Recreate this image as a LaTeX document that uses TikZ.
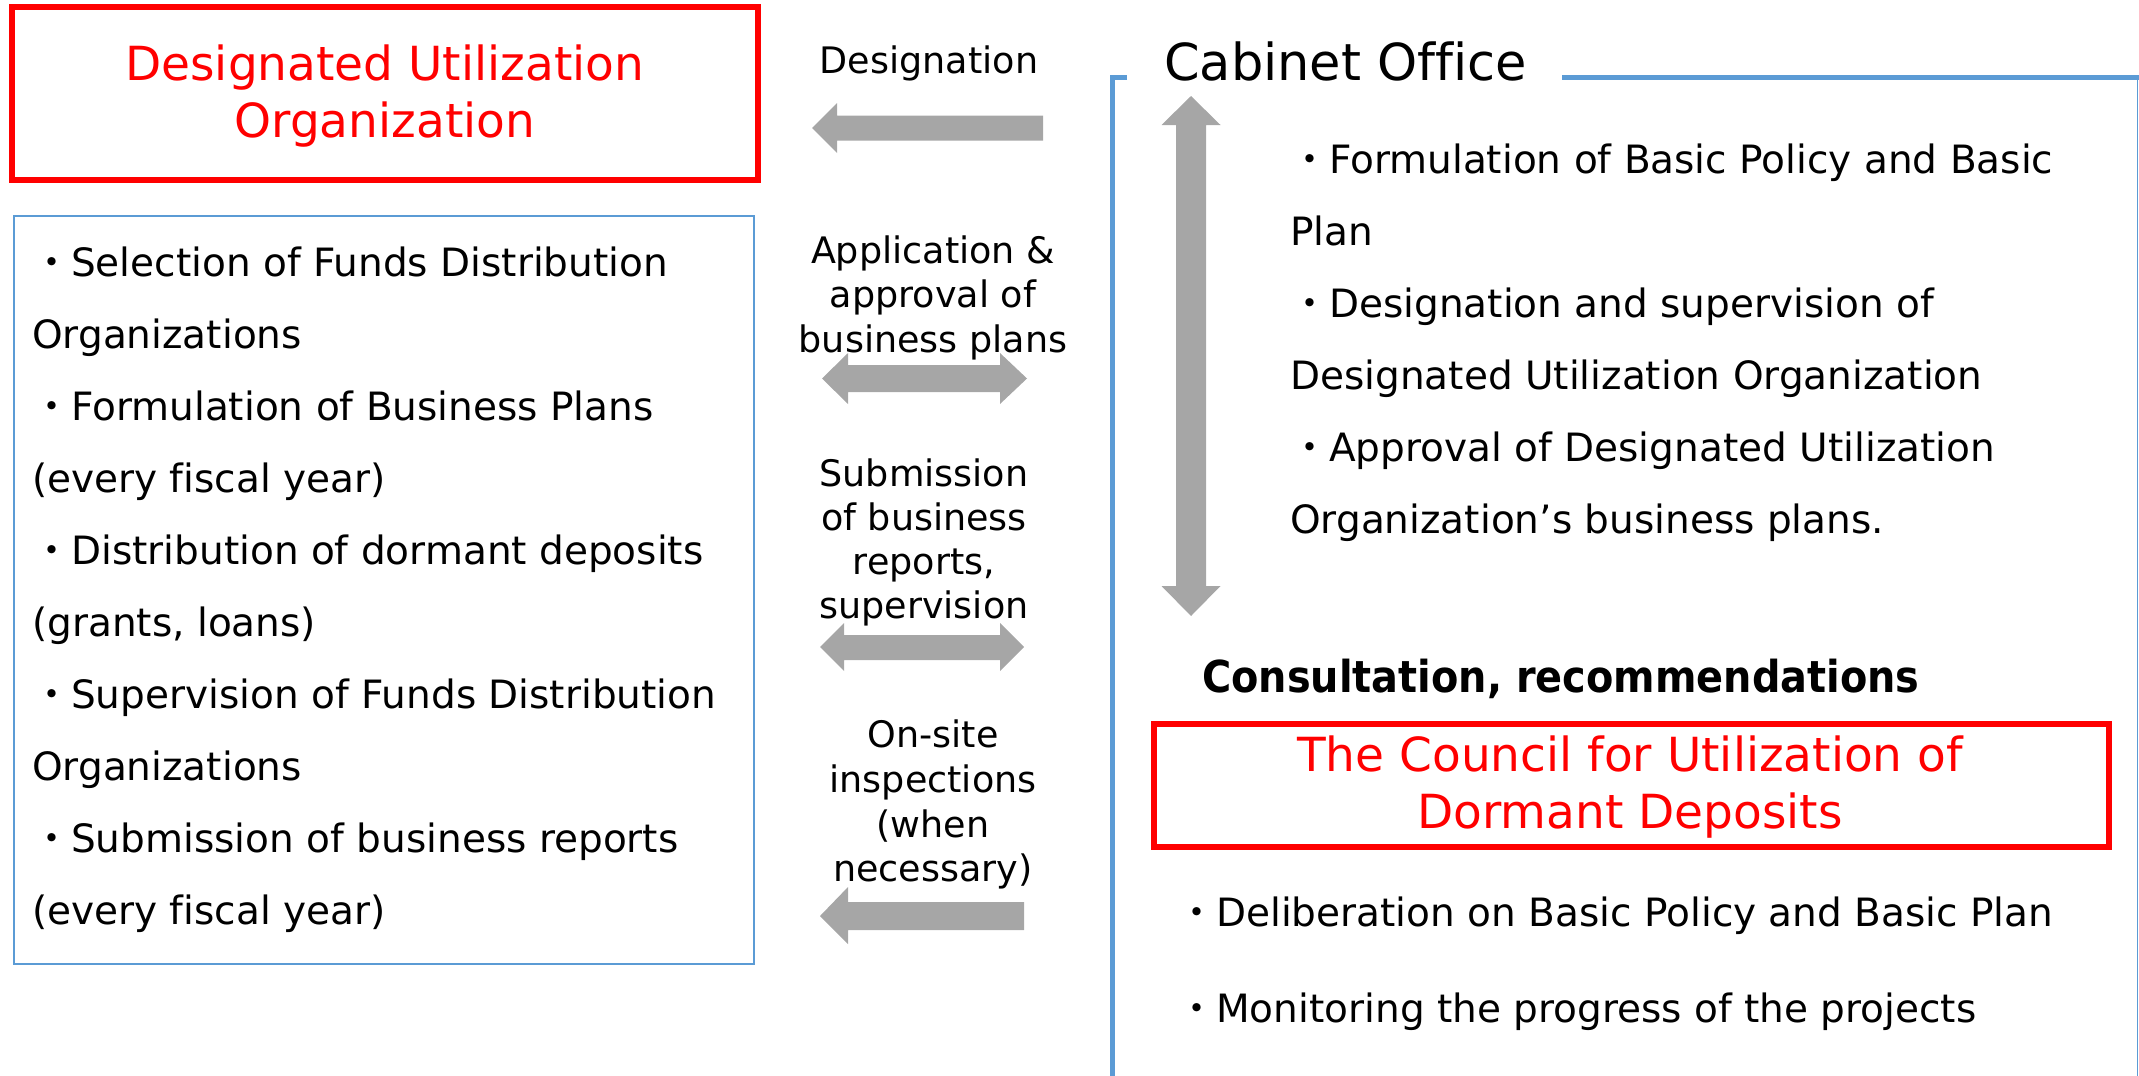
\documentclass[tikz,border=0pt]{standalone}
\usepackage{fontspec}
\usepackage{graphicx}
\setmainfont[Ligatures=NoCommon]{DejaVu Sans}
\newfontfamily\cjk{Noto Sans CJK JP}
\newfontfamily\boldcond[UprightFont=* Bold, FakeStretch=0.905]{DejaVu Sans}
\definecolor{arrowgray}{RGB}{166,166,166}
\definecolor{frameblue}{RGB}{91,155,213}
\newcommand{\bul}{{\cjk ・}}
\tikzset{
  txt/.style={inner sep=0pt, anchor=base west, font=\fontsize{39}{47}\selectfont},
  midlbl/.style={inner sep=0pt, anchor=base, font=\fontsize{36.5}{44}\selectfont},
  ttl/.style={inner sep=0pt, anchor=base, text=red, font=\fontsize{47}{57}\selectfont},
  blockarrow/.style={fill=arrowgray, draw=none},
  redbox/.style={draw=red, line width=6pt, inner sep=0pt},
  bluethin/.style={draw=frameblue, line width=2pt, inner sep=0pt},
  bluethick/.style={draw=frameblue, line width=5pt},
}
\begin{document}
\begin{tikzpicture}[x=1pt,y=-1pt]
\useasboundingbox (0,0) rectangle (2139,1076);

% ---- Designated Utilization Organization box
\node[redbox, minimum width=745.5pt, minimum height=173pt] (duo) at (384.75,93.5) {};
\node[ttl] (duo1) at (384.75,80) {Designated Utilization};
\node[ttl] (duo2) at (384.75,137) {Organization};

% ---- left list box
\node[bluethin, minimum width=740pt, minimum height=748pt] (lbox) at (384,590) {};
\node[txt] (l0) at (32,276.0) {\bul Selection of Funds Distribution};
\node[txt] (l1) at (32,348.1) {Organizations};
\node[txt] (l2) at (32,420.2) {\bul Formulation of Business Plans};
\node[txt] (l3) at (32,492.3) {(every fiscal year)};
\node[txt] (l4) at (32,564.4) {\bul Distribution of dormant deposits};
\node[txt] (l5) at (32,636.5) {(grants, loans)};
\node[txt] (l6) at (32,708.6) {\bul Supervision of Funds Distribution};
\node[txt] (l7) at (32,780.7) {Organizations};
\node[txt] (l8) at (32,852.8) {\bul Submission of business reports};
\node[txt] (l9) at (32,924.9) {(every fiscal year)};

% ---- middle labels
\node[midlbl] (m0) at (929,73) {Designation};
\node[midlbl] (m1a) at (933,263) {Application \&};
\node[midlbl] (m1b) at (933,307) {approval of};
\node[midlbl] (m1c) at (933,352) {business plans};
\node[midlbl] (m2a) at (924,486) {Submission};
\node[midlbl] (m2b) at (924,530) {of business};
\node[midlbl] (m2c) at (924,574) {reports,};
\node[midlbl] (m2d) at (924,618) {supervision};
\node[midlbl] (m3a) at (933,747) {On-site};
\node[midlbl] (m3b) at (933,792) {inspections};
\node[midlbl] (m3c) at (933,837) {(when};
\node[midlbl] (m3d) at (933,881) {necessary)};

% ---- block arrows
\fill[blockarrow] (812,128) -- (837,103) -- (837,115.5) -- (1043,115.5) -- (1043,140.5)
  -- (837,140.5) -- (837,153) -- cycle;
\fill[blockarrow] (822,378.5) -- (848,353) -- (848,365) -- (1000,365) -- (1000,353)
  -- (1027,378.5) -- (1000,404) -- (1000,392) -- (848,392) -- (848,404) -- cycle;
\fill[blockarrow] (820,647) -- (844,623) -- (844,635) -- (1000,635) -- (1000,623)
  -- (1024,647) -- (1000,671) -- (1000,660) -- (844,660) -- (844,671) -- cycle;
\fill[blockarrow] (820,916) -- (848,887) -- (848,902) -- (1024,902) -- (1024,930)
  -- (848,930) -- (848,944) -- cycle;
\fill[blockarrow] (1191,96) -- (1220.5,125) -- (1206,125) -- (1206,586) -- (1220.5,586)
  -- (1191,616) -- (1161.5,586) -- (1176,586) -- (1176,125) -- (1161.5,125) -- cycle;

% ---- Cabinet Office frame
\draw[bluethick] (1127,77.5) -- (1112.5,77.5) -- (1112.5,1080);
\draw[bluethick] (1562,77.5) -- (2139,77.5);
\draw[frameblue, line width=1.5pt] (2137.5,77.5) -- (2137.5,1080);
\node[inner sep=0pt, anchor=base west, font=\fontsize{51}{60}\selectfont] (cab) at (1164,80) {Cabinet Office};

\node[txt] (r0) at (1290,173) {\bul Formulation of Basic Policy and Basic};
\node[txt] (r1) at (1290,245) {Plan};
\node[txt] (r2) at (1290,317) {\bul Designation and supervision of};
\node[txt] (r3) at (1290,389) {Designated Utilization Organization};
\node[txt] (r4) at (1290,461) {\bul Approval of Designated Utilization};
\node[txt] (r5) at (1290,533) {Organization’s business plans.};

\node[inner sep=0pt, anchor=base west, font=\boldcond\fontsize{44}{52}\selectfont] (cons) at (1202,692) {Consultation, recommendations};

% ---- Council box
\node[redbox, minimum width=955.5pt, minimum height=123pt] (council) at (1631.25,785.5) {};
\node[ttl] (co1) at (1630,771) {The Council for Utilization of};
\node[ttl] (co2) at (1630,828) {Dormant Deposits};

\node[txt] (b0) at (1177,926) {\bul Deliberation on Basic Policy and Basic Plan};
\node[txt] (b1) at (1177,1022) {\bul Monitoring the progress of the projects};
\end{tikzpicture}
\end{document}
